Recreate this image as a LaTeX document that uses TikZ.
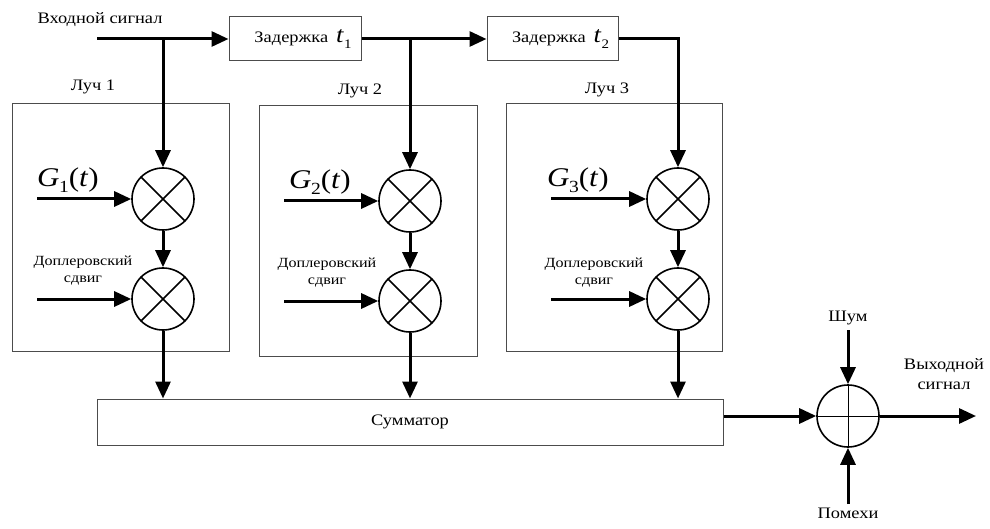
\documentclass[tikz,border=0pt]{standalone}
\usepackage{fontspec}
\setmainfont[FakeStretch=1.15]{Liberation Serif}
\usetikzlibrary{arrows.meta,calc}
\tikzset{
 conn/.style={line width=3pt, -{Triangle[length=17pt,width=15pt]}},
 frame/.style={draw=black!70, line width=1pt, inner sep=0pt},
 dly/.style={draw=black!70, line width=1pt, minimum width=132pt, minimum height=44pt, inner sep=0pt, font=\fontsize{16}{18}\selectfont},
 mixer/.style={circle, draw, line width=1.6pt, minimum size=62pt, inner sep=0pt, fill=white},
 lbl/.style={font=\fontsize{16}{18}\selectfont, inner sep=0pt},
 small/.style={font=\fontsize{14}{17}\selectfont, inner sep=0pt, align=center},
 glbl/.style={font=\fontsize{27}{29}\selectfont, inner sep=0pt}
}
\newcommand{\glab}[1]{\textit{G}\kern-0.5pt\raisebox{-0.22em}{\fontsize{17}{17}\selectfont #1}(\textit{t})}
\newcommand{\tlab}[1]{{\fontsize{23}{23}\selectfont\textit{t}\raisebox{-0.25em}{\fontsize{13}{13}\selectfont #1}}}
\begin{document}
\begin{tikzpicture}[x=1pt,y=-1pt]
\useasboundingbox (0,0) rectangle (990,529);
% ray frames
\node (r1) [frame, minimum width=217pt, minimum height=247pt] at (120.5,227.5) {};
\node (r2) [frame, minimum width=218pt, minimum height=250pt] at (368,231) {};
\node (r3) [frame, minimum width=216pt, minimum height=247pt] at (614,227.5) {};
\node (l1) [lbl] at (93,87) {Луч 1};
\node (l2) [lbl] at (360,91) {Луч 2};
\node (l3) [lbl] at (607,90) {Луч 3};
% input & delays
\node (inl) [lbl] at (100,20) {Входной сигнал};
\coordinate (in) at (97,39);
\node (t1) [dly] at (295,39) {\hspace*{16pt}Задержка\hspace{8pt}\tlab{1}};
\node (t2) [dly, minimum width=131pt] at (552.5,39) {\hspace*{16pt}Задержка\hspace{8pt}\tlab{2}};
% mixers
\node (m1a) [mixer] at (163,199) {};
\node (m1b) [mixer] at (163,299) {};
\node (m2a) [mixer] at (410,201) {};
\node (m2b) [mixer] at (410,301) {};
\node (m3a) [mixer] at (678,199) {};
\node (m3b) [mixer] at (678,299) {};
\foreach \m in {m1a,m1b,m2a,m2b,m3a,m3b}{
  \draw[line width=1.6pt] (\m.45) -- (\m.225) (\m.135) -- (\m.315);
}
% summator and sum
\node (sm) [frame, minimum width=626pt, minimum height=46pt, font=\fontsize{16}{18}\selectfont] at (410,422) {Сумматор};
\node (sum) [mixer] at (848,416) {};
\draw[line width=1pt] (sum.north) -- (sum.south) (sum.west) -- (sum.east);
% labels inside rays
\node (g1) [glbl] at (68,180) {\glab{1}};
\node (g2) [glbl] at (320,182) {\glab{2}};
\node (g3) [glbl] at (578,180) {\glab{3}};
\node (d1) [small] at (83,271) {Доплеровский\\сдвиг};
\node (d2) [small] at (327,273) {Доплеровский\\сдвиг};
\node (d3) [small] at (594,273) {Доплеровский\\сдвиг};
\coordinate (g1s) at (37,199);
\coordinate (g2s) at (284,201);
\coordinate (g3s) at (551,199);
\coordinate (d1s) at (37,299);
\coordinate (d2s) at (284,301);
\coordinate (d3s) at (551,299);
% noise labels
\node (shum) [lbl] at (848,318) {Шум};
\node (pom) [lbl] at (848,513) {Помехи};
\node (outl) [lbl, align=center] at (944,374) {Выходной\\[2pt]сигнал};
\coordinate (shs) at (848,330);
\coordinate (pos) at (848,504);
\coordinate (oute) at (976,416);
% connectors top
\draw[conn] (in) -- (t1.west);
\draw[conn] (t1.east) -- (t2.west);
\draw[conn] (in -| m1a) -- (m1a.north);
\draw[conn] (t1.east -| m2a) -- (m2a.north);
\draw[conn] (t2.east) -| (m3a.north);
% inside rays
\draw[conn] (g1s) -- (m1a.west);
\draw[conn] (g2s) -- (m2a.west);
\draw[conn] (g3s) -- (m3a.west);
\draw[conn] (d1s) -- (m1b.west);
\draw[conn] (d2s) -- (m2b.west);
\draw[conn] (d3s) -- (m3b.west);
\draw[conn] (m1a.south) -- (m1b.north);
\draw[conn] (m2a.south) -- (m2b.north);
\draw[conn] (m3a.south) -- (m3b.north);
\draw[conn] (m1b.south) -- (m1b.south |- sm.north);
\draw[conn] (m2b.south) -- (m2b.south |- sm.north);
\draw[conn] (m3b.south) -- (m3b.south |- sm.north);
% output part
\draw[conn] (sm.east |- sum) -- (sum.west);
\draw[conn] (shs) -- (sum.north);
\draw[conn] (pos) -- (sum.south);
\draw[conn] (sum.east) -- (oute);
\end{tikzpicture}
\end{document}
